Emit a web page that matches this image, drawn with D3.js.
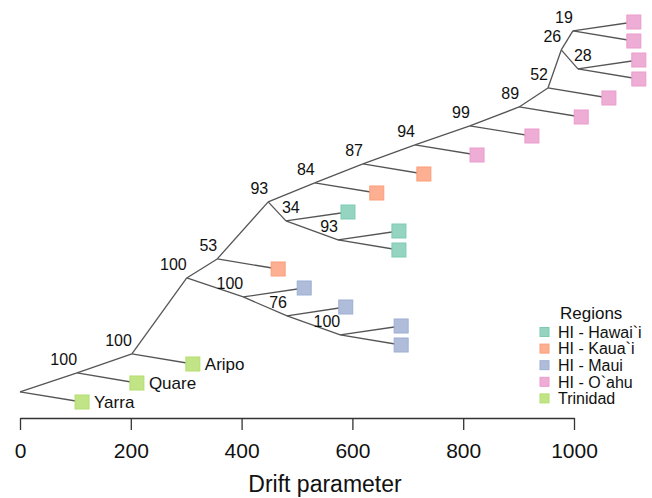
<!DOCTYPE html>
<html>
<head>
<meta charset="utf-8">
<script src="https://cdn.jsdelivr.net/npm/d3@7"></script>
<style>
  body { margin: 0; background: #fff; }
  text { font-family: "Liberation Sans", Arial, sans-serif; fill: #111; }
</style>
</head>
<body>
<svg id="chart"></svg>
<script>
// regions and their colours
var regions = ["HI - Hawai`i", "HI - Kaua`i", "HI - Maui", "HI - O`ahu", "Trinidad"];
var regionColors = ["#66c2a5", "#fc8d62", "#8da0cb", "#e78ac3", "#a6d854"];

// internal nodes: id, parent, drift, vertical position, bootstrap support
var internalNodes = [
  {id: "root", parent: null, drift: 0,    y: 0.53,  support: null},
  {id: "A",    parent: "root", drift: 103, y: 1.53,  support: 100},
  {id: "B",    parent: "A",  drift: 202,  y: 2.53,  support: 100},
  {id: "C",    parent: "B",  drift: 301,  y: 6.53,  support: 100},
  {id: "H",    parent: "C",  drift: 403,  y: 5.53,  support: 100},
  {id: "I",    parent: "H",  drift: 482,  y: 4.53,  support: 76},
  {id: "J",    parent: "I",  drift: 578,  y: 3.53,  support: 100},
  {id: "D",    parent: "C",  drift: 356,  y: 7.53,  support: 53},
  {id: "E",    parent: "D",  drift: 448,  y: 10.53, support: 93},
  {id: "F",    parent: "E",  drift: 480,  y: 9.53,  support: 34},
  {id: "G",    parent: "F",  drift: 574,  y: 8.53,  support: 93},
  {id: "K",    parent: "E",  drift: 532,  y: 11.53, support: 84},
  {id: "L",    parent: "K",  drift: 619,  y: 12.53, support: 87},
  {id: "M",    parent: "L",  drift: 713,  y: 13.53, support: 94},
  {id: "N",    parent: "M",  drift: 812,  y: 14.53, support: 99},
  {id: "O",    parent: "N",  drift: 901,  y: 15.53, support: 89},
  {id: "P",    parent: "O",  drift: 953,  y: 16.53, support: 52},
  {id: "Q",    parent: "P",  drift: 977,  y: 18.53, support: 26},
  {id: "R",    parent: "Q",  drift: 998,  y: 19.53, support: 19},
  {id: "S",    parent: "Q",  drift: 1007, y: 17.53, support: 28}
];

// nodes whose support label sits to the right of the node
var rightLabels = ["F", "S"];

// leaves: parent, drift, vertical position, region, name
var leaves = [
  {parent: "root", drift: 112,  y: 0,  region: "Trinidad", name: "Yarra"},
  {parent: "A",    drift: 211,  y: 1,  region: "Trinidad", name: "Quare"},
  {parent: "B",    drift: 312,  y: 2,  region: "Trinidad", name: "Aripo"},
  {parent: "J",    drift: 688,  y: 3,  region: "HI - Maui"},
  {parent: "J",    drift: 688,  y: 4,  region: "HI - Maui"},
  {parent: "I",    drift: 588,  y: 5,  region: "HI - Maui"},
  {parent: "H",    drift: 513,  y: 6,  region: "HI - Maui"},
  {parent: "D",    drift: 466,  y: 7,  region: "HI - Kaua`i"},
  {parent: "G",    drift: 684,  y: 8,  region: "HI - Hawai`i"},
  {parent: "G",    drift: 684,  y: 9,  region: "HI - Hawai`i"},
  {parent: "F",    drift: 592,  y: 10, region: "HI - Hawai`i"},
  {parent: "K",    drift: 644,  y: 11, region: "HI - Kaua`i"},
  {parent: "L",    drift: 729,  y: 12, region: "HI - Kaua`i"},
  {parent: "M",    drift: 825,  y: 13, region: "HI - O`ahu"},
  {parent: "N",    drift: 924,  y: 14, region: "HI - O`ahu"},
  {parent: "O",    drift: 1013, y: 15, region: "HI - O`ahu"},
  {parent: "P",    drift: 1063, y: 16, region: "HI - O`ahu"},
  {parent: "S",    drift: 1117, y: 17, region: "HI - O`ahu"},
  {parent: "S",    drift: 1117, y: 18, region: "HI - O`ahu"},
  {parent: "R",    drift: 1108, y: 19, region: "HI - O`ahu"},
  {parent: "R",    drift: 1108, y: 20, region: "HI - O`ahu"}
];

var xTicks = [0, 200, 400, 600, 800, 1000];

var width = 652, height = 498;

var svg = d3.select("#chart")
  .attr("width", width)
  .attr("height", height);

var xScale = d3.scaleLinear().domain([0, 1000]).range([20, 574]);
var yScale = d3.scaleLinear().domain([0, 20]).range([402, 22]);
var color = d3.scaleOrdinal().domain(regions).range(regionColors);

// light fill, like the semi-transparent squares of the original
function fillOf(r) { return d3.interpolateRgb(color(r), "#fff")(0.3); }
function strokeOf(r) { return d3.interpolateRgb(color(r), "#fff")(0.15); }

var byId = {};
internalNodes.forEach(function(d) { byId[d.id] = d; });

// edges: every node with a parent
var edges = internalNodes.filter(function(d) { return d.parent; })
  .concat(leaves)
  .map(function(d) { return {from: byId[d.parent], to: d}; });

svg.append("g")
  .selectAll("line")
  .data(edges)
  .enter()
  .append("line")
    .attr("x1", function(d) { return xScale(d.from.drift); })
    .attr("y1", function(d) { return yScale(d.from.y); })
    .attr("x2", function(d) { return xScale(d.to.drift); })
    .attr("y2", function(d) { return yScale(d.to.y); })
    .attr("stroke", "#555")
    .attr("stroke-width", 1.3);

// support values
svg.append("g")
  .selectAll("text")
  .data(internalNodes.filter(function(d) { return d.support != null; }))
  .enter()
  .append("text")
    .attr("x", function(d) { return rightLabels.indexOf(d.id) >= 0 ? xScale(d.drift) - 4 : xScale(d.drift); })
    .attr("y", function(d) { return yScale(d.y) - 8; })
    .attr("text-anchor", function(d) { return rightLabels.indexOf(d.id) >= 0 ? "start" : "end"; })
    .style("font-size", "16px")
    .text(function(d) { return d.support; });

// leaf squares
var sq = 14;
svg.append("g")
  .selectAll("rect")
  .data(leaves)
  .enter()
  .append("rect")
    .attr("x", function(d) { return xScale(d.drift) - sq / 2; })
    .attr("y", function(d) { return yScale(d.y) - sq / 2; })
    .attr("width", sq)
    .attr("height", sq)
    .attr("fill", function(d) { return fillOf(d.region); })
    .attr("stroke", function(d) { return strokeOf(d.region); })
    .attr("stroke-width", 1);

svg.append("g")
  .selectAll("text")
  .data(leaves.filter(function(d) { return d.name; }))
  .enter()
  .append("text")
    .attr("x", function(d) { return xScale(d.drift) + 12; })
    .attr("y", function(d) { return yScale(d.y); })
    .attr("dy", "0.36em")
    .style("font-size", "17px")
    .text(function(d) { return d.name; });

// x axis
var xAxis = d3.axisBottom(xScale)
  .tickValues(xTicks)
  .tickFormat(d3.format("d"))
  .tickSizeInner(12)
  .tickSizeOuter(0)
  .tickPadding(13);

var axisG = svg.append("g")
  .attr("transform", "translate(0,418)")
  .call(xAxis);
axisG.select(".domain").attr("stroke", "#333").attr("stroke-width", 1.3);
axisG.selectAll(".tick line").attr("stroke", "#333").attr("stroke-width", 1.3);
axisG.selectAll(".tick text")
  .style("font-size", "21px")
  .style("font-family", "'Liberation Sans', Arial, sans-serif")
  .attr("fill", "#111");

svg.append("text")
  .attr("x", 325)
  .attr("y", 492)
  .attr("text-anchor", "middle")
  .style("font-size", "23px")
  .text("Drift parameter");

// legend
var legend = svg.append("g").attr("transform", "translate(540,0)");
legend.append("text")
  .attr("x", 20)
  .attr("y", 313)
  .attr("dy", "0.36em")
  .style("font-size", "17px")
  .text("Regions");

var items = legend.selectAll(".item")
  .data(regions)
  .enter()
  .append("g")
    .attr("class", "item")
    .attr("transform", function(d, i) { return "translate(0," + (332 + i * 16.6) + ")"; });

items.append("rect")
  .attr("x", 0)
  .attr("y", -4.5)
  .attr("width", 9)
  .attr("height", 9)
  .attr("fill", function(d) { return fillOf(d); })
  .attr("stroke", function(d) { return strokeOf(d); });

items.append("text")
  .attr("x", 18)
  .attr("y", 0)
  .attr("dy", "0.36em")
  .style("font-size", "16px")
  .text(function(d) { return d; });
</script>
</body>
</html>
